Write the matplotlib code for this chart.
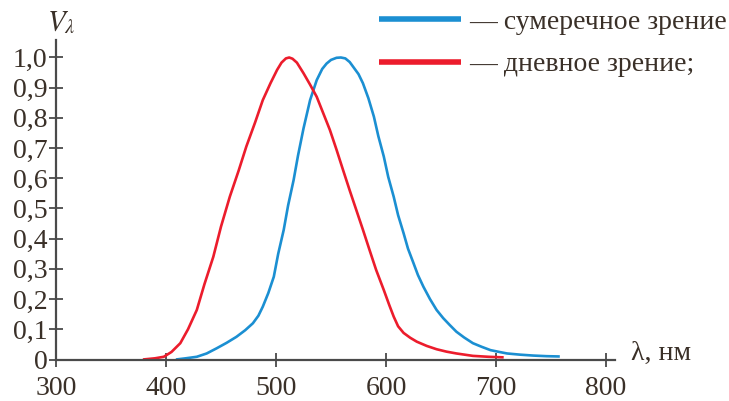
import matplotlib
matplotlib.use("Agg")
import matplotlib.pyplot as plt

# кривые видности (нм, относит. значение)
day_nm = [379, 390, 398, 405, 413, 420, 428, 435, 443, 450, 458, 466, 473, 481, 488, 495,
          501, 505, 509, 512, 515, 519, 525, 531, 537, 543, 549, 555, 561, 567, 573, 579,
          585, 591, 598, 603, 607, 611, 616, 622, 628, 637, 646, 655, 664, 679, 693, 707]
day_v = [0.0, 0.004, 0.009, 0.025, 0.054, 0.10, 0.164, 0.25, 0.34, 0.44, 0.539, 0.625, 0.705,
         0.785, 0.859, 0.915, 0.959, 0.983, 0.997, 1.0, 0.996, 0.983, 0.948, 0.91, 0.87,
         0.815, 0.76, 0.695, 0.627, 0.56, 0.495, 0.43, 0.363, 0.297, 0.23, 0.18, 0.142, 0.11,
         0.088, 0.072, 0.059, 0.045, 0.034, 0.026, 0.02, 0.012, 0.009, 0.007]

night_nm = [409, 418, 428, 437, 446, 455, 464, 472, 479, 484, 488, 493, 498, 502, 507, 511,
            516, 520, 525, 531, 537, 542, 546, 550, 555, 559, 563, 567, 571, 575, 579, 584,
            589, 593, 598, 602, 607, 611, 616, 620, 625, 629, 634, 640, 646, 652, 658, 664,
            671, 679, 687, 695, 703, 710, 722, 734, 746, 758]
night_v = [0.0, 0.004, 0.009, 0.02, 0.037, 0.055, 0.075, 0.097, 0.12, 0.145, 0.175, 0.22, 0.274,
           0.35, 0.429, 0.51, 0.594, 0.675, 0.765, 0.859, 0.925, 0.962, 0.98, 0.992, 0.999, 1.0,
           0.997, 0.985, 0.965, 0.945, 0.915, 0.865, 0.804, 0.74, 0.672, 0.605, 0.539, 0.478,
           0.418, 0.367, 0.319, 0.28, 0.241, 0.2, 0.164, 0.137, 0.114, 0.092, 0.073, 0.054,
           0.042, 0.031, 0.025, 0.02, 0.016, 0.013, 0.011, 0.01]

x_ticks = [300, 400, 500, 600, 700, 800]
y_ticks = [0.0, 0.1, 0.2, 0.3, 0.4, 0.5, 0.6, 0.7, 0.8, 0.9, 1.0]
y_labels = ["0", "0,1", "0,2", "0,3", "0,4", "0,5", "0,6", "0,7", "0,8", "0,9", "1,0"]

BLUE = "#1b8fd2"
RED = "#ec1c2c"
AX = "#4a4a4a"
TXT = "#3a3028"

plt.rcParams["font.family"] = ["Liberation Serif", "DejaVu Serif"]
plt.rcParams["mathtext.fontset"] = "stix"

fig = plt.figure(figsize=(7.29, 4.01), dpi=100)
ax = fig.add_axes([56 / 729, 1 - 359.5 / 401, (615 - 56) / 729, (359.5 - 40) / 401])

l_night, = ax.plot(night_nm, night_v, color=BLUE, lw=1.9, solid_capstyle="butt",
                   solid_joinstyle="round")
l_day, = ax.plot(day_nm, day_v, color=RED, lw=1.9, solid_capstyle="butt",
                 solid_joinstyle="round")

ax.set_xlim(300, 300 + (615 - 56) / 1.1)
ax.set_ylim(0, (359.5 - 40) / 302)

for s in ["top", "right"]:
    ax.spines[s].set_visible(False)
for s in ["left", "bottom"]:
    ax.spines[s].set_color(AX)
    ax.spines[s].set_linewidth(1.6)

ax.set_xticks(x_ticks)
ax.set_yticks(y_ticks)
ax.set_yticklabels(y_labels)
ax.tick_params(direction="inout", length=10, width=1.3, color=AX,
               labelsize=20, labelcolor=TXT)
ax.tick_params(axis="y", pad=1)
ax.tick_params(axis="x", pad=7)

ax.text(47 / 729, 1 - 23 / 401, r"$V_{\lambda}$", transform=fig.transFigure,
        fontsize=21, color=TXT, ha="left", va="center")
ax.text(631 / 729, 1 - 353 / 401, "λ, нм", transform=fig.transFigure,
        fontsize=20, color=TXT, ha="left", va="center")

leg = ax.legend([l_night, l_day], ["— сумеречное зрение", "— дневное зрение;"],
                loc="upper right", bbox_to_anchor=(736 / 729, 1.0),
                bbox_transform=fig.transFigure, frameon=False, fontsize=20,
                handlelength=2.95, handletextpad=0.28, labelspacing=0.62,
                borderaxespad=0.0, borderpad=0.33)
for t in leg.get_texts():
    t.set_color(TXT)
for ln in leg.get_lines():
    ln.set_linewidth(4)

fig.savefig("out.png", dpi=100)
